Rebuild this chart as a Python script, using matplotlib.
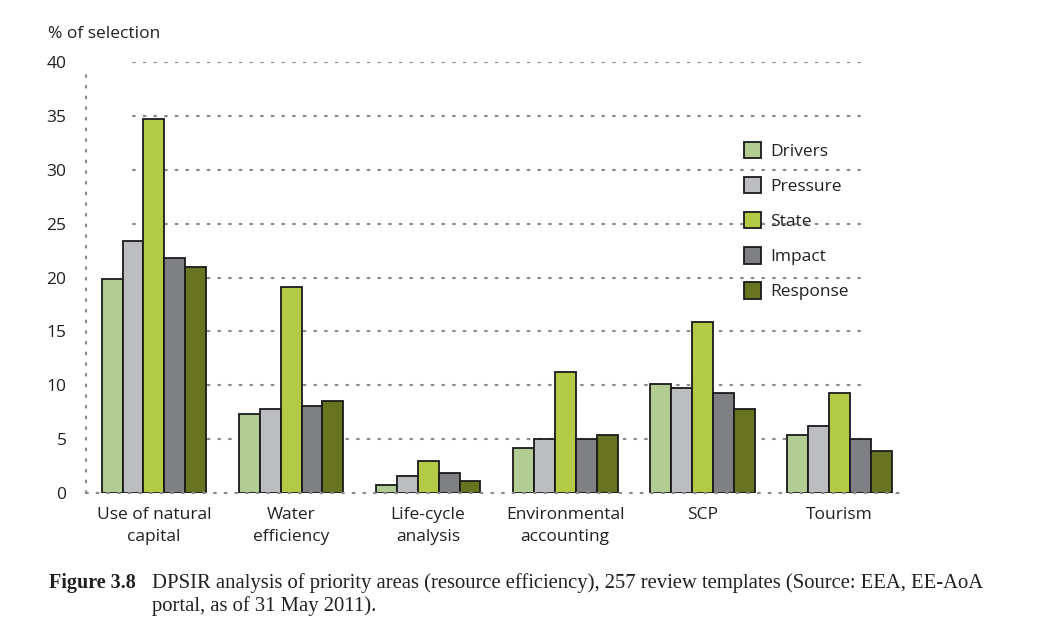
import matplotlib
matplotlib.use("Agg")
import matplotlib.pyplot as plt
import numpy as np

categories = ["Use of natural\ncapital", "Water\nefficiency", "Life-cycle\nanalysis",
              "Environmental\naccounting", "SCP", "Tourism"]
series = ["Drivers", "Pressure", "State", "Impact", "Response"]
drivers  = [19.9, 7.3, 0.7, 4.2, 10.1, 5.4]
pressure = [23.4, 7.8, 1.6, 5.0, 9.7, 6.2]
state    = [34.7, 19.1, 3.0, 11.2, 15.9, 9.3]
impact   = [21.8, 8.1, 1.9, 5.0, 9.3, 5.0]
response = [21.0, 8.5, 1.1, 5.4, 7.8, 3.9]
yticks = [0, 5, 10, 15, 20, 25, 30, 35, 40]

values = [drivers, pressure, state, impact, response]
colors = ["#b3cc94", "#bcbdc0", "#b3ca47", "#7f8084", "#68741f"]

plt.rcParams['font.family'] = ['Open Sans', 'DejaVu Sans']
fig = plt.figure(figsize=(10.39, 6.24), dpi=100)
ax = fig.add_axes([86/1039, 1-493/624, (905-86)/1039, (493-62)/624])

x = np.arange(len(categories))
bw = 0.153
dot = dict(color="#8c8c8c", linewidth=1.6, linestyle=(0, (0.8, 4)), dash_capstyle='round')
for t in yticks[1:]:
    ax.plot([-0.155, 5.15], [t, t], zorder=1, **dot)

for i, (s, v, c) in enumerate(zip(series, values, colors)):
    ax.bar(x + (i - 2) * bw, v, width=bw, color=c, edgecolor="#1a1a1a",
           linewidth=1.3, label=s, zorder=2)

ax.set_xlim(-0.496, 5.48)
ax.set_ylim(0, 40)
ax.set_yticks(yticks)
ax.set_yticklabels([str(t) for t in yticks], fontsize=12.5, color="#231f20")
ax.set_xticks(x)
ax.set_xticklabels(categories, fontsize=12.5, color="#231f20", linespacing=1.55)
ax.tick_params(length=0, pad=14, axis='y')
ax.tick_params(length=0, pad=10, axis='x')
for s in ["top", "right"]:
    ax.spines[s].set_visible(False)
for s in ["left", "bottom"]:
    ax.spines[s].set_color("#8c8c8c")
    ax.spines[s].set_linewidth(1.6)
    ax.spines[s].set_linestyle((0, (0.8, 4)))
    ax.spines[s].set_capstyle('round')
ax.spines["left"].set_bounds(0, 39.4)

fig.text(48/1039, 1-34/624, "% of selection", fontsize=12.5, color="#231f20", va="center")

leg = ax.legend(loc="upper left", bbox_to_anchor=(728/1039, 1-126/624), bbox_transform=fig.transFigure,
                frameon=False, fontsize=12.5, handlelength=1.0, handleheight=1.1,
                labelspacing=0.97, handletextpad=0.55, labelcolor="#231f20")

fig.text(49/1039, 1-583/624, "Figure 3.8", fontsize=14.5, fontweight="bold",
         family="Liberation Serif", color="#231f20", va="center")
fig.text(152/1039, 1-583/624,
         "DPSIR analysis of priority areas (resource efficiency), 257 review templates (Source: EEA, EE-AoA",
         fontsize=14.9, family="Liberation Serif", color="#231f20", va="center")
fig.text(152/1039, 1-606/624, "portal, as of 31 May 2011).",
         fontsize=14.9, family="Liberation Serif", color="#231f20", va="center")

fig.savefig("out.png", dpi=100)
